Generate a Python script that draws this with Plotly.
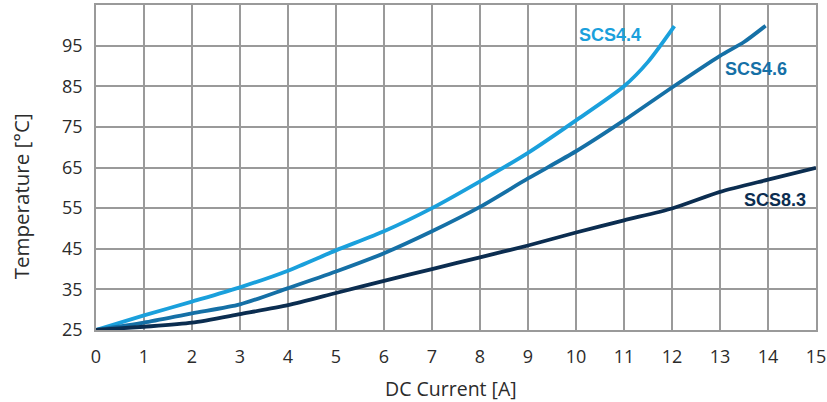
import plotly.graph_objects as go

x_44 = [0, 1, 2, 3, 4, 5, 6, 7, 8, 9, 10, 11, 11.5, 12.05]
y_44 = [25, 28.6, 32.0, 35.5, 39.6, 44.6, 49.3, 55.0, 61.6, 68.6, 76.6, 85.0, 91.0, 99.8]

x_46 = [0, 1, 2, 3, 4, 5, 6, 7, 8, 9, 10, 11, 12, 13, 13.5, 13.95]
y_46 = [25, 26.8, 29.1, 31.3, 35.3, 39.4, 43.9, 49.3, 55.3, 62.3, 69.0, 76.6, 84.7, 92.5, 95.9, 99.9]

x_83 = [0, 1, 2, 3, 4, 5, 6, 7, 8, 9, 10, 11, 12, 13, 14, 15]
y_83 = [25, 25.8, 26.8, 28.9, 31.1, 34.1, 37.1, 40.0, 42.9, 45.8, 49.0, 52.0, 54.9, 59.0, 62.0, 64.9]

series_names = ["SCS4.4", "SCS4.6", "SCS8.3"]
colors = ["#1AA0DC", "#1570A6", "#0B2D50"]
label_x = [10.7, 13.75, 14.15]
label_y = [97.6, 89.2, 57.1]

x_ticks = list(range(0, 16))
y_ticks = [25, 35, 45, 55, 65, 75, 85, 95]

fig = go.Figure()
for xs, ys, name, c in zip([x_44, x_46, x_83], [y_44, y_46, y_83], series_names, colors):
    fig.add_trace(go.Scatter(x=xs, y=ys, mode="lines", name=name,
                             line=dict(color=c, width=3.8, shape="spline", smoothing=0.7)))

for name, c, lx, ly in zip(series_names, colors, label_x, label_y):
    fig.add_annotation(x=lx, y=ly, text="<b>%s</b>" % name, showarrow=False,
                       font=dict(family="Liberation Sans, Arial", size=18, color=c))

# axis titles as annotations for exact placement
fig.add_annotation(xref="paper", yref="paper", x=0.493, y=-0.18, text="DC Current [A]",
                   showarrow=False, font=dict(size=19.5), xanchor="center", yanchor="middle")
fig.add_annotation(xref="paper", yref="paper", x=-0.104, y=0.412, text="Temperature [°C]",
                   showarrow=False, font=dict(size=20.5), textangle=-90,
                   xanchor="center", yanchor="middle")

grid = "#9a9a9a"
fig.update_layout(
    width=827, height=402,
    margin=dict(l=96, r=11, t=5, b=72, autoexpand=False),
    paper_bgcolor="white", plot_bgcolor="white",
    showlegend=False,
    font=dict(family="Open Sans, Noto Sans", size=18, color="#2b2b2b"),
    xaxis=dict(range=[0, 15], tickvals=x_ticks, showgrid=True, gridcolor=grid, gridwidth=1.5,
               showline=True, linecolor=grid, linewidth=1.5, mirror=True, zeroline=False,
               ticks="", ticklabelstandoff=10, automargin=False),
    yaxis=dict(range=[25, 105], tickvals=y_ticks, showgrid=True, gridcolor=grid, gridwidth=1.5,
               showline=True, linecolor=grid, linewidth=1.5, mirror=True, zeroline=False,
               ticks="", ticklabelstandoff=8, automargin=False),
)

fig.write_html("out.html", config={"displayModeBar": False},
               post_script="document.body.style.margin='0';document.body.style.overflow='hidden';")
